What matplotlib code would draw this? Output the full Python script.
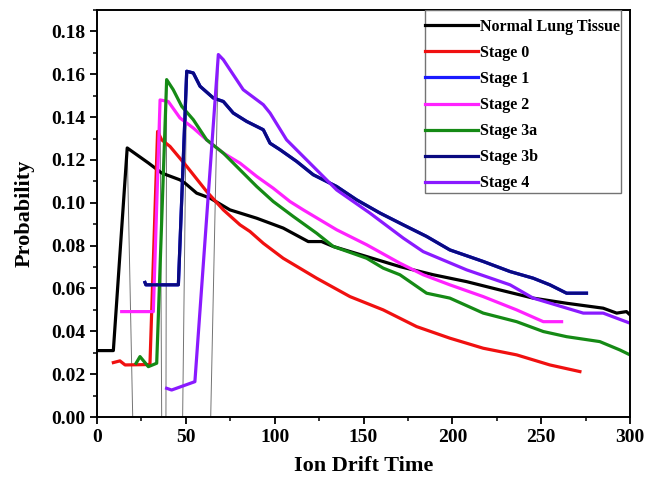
import matplotlib
matplotlib.use("Agg")
import matplotlib.pyplot as plt
from matplotlib.patches import Rectangle
from matplotlib.ticker import MultipleLocator

plt.rcParams['font.family'] = ['Liberation Serif', 'DejaVu Serif']
plt.rcParams['font.weight'] = 'bold'

# drift spectra, one per tissue group
normal_x = [0, 9.2, 17, 28.9, 36.4, 46.7, 49.5, 56.1, 63.6, 74.8, 89.9, 104.8, 118.9, 126.4,
            133, 151.8, 170.5, 189.3, 208, 226.8, 245.5, 264.3, 284.9, 292.5, 298, 300]
normal_y = [0.031, 0.031, 0.1256, 0.1186, 0.1139, 0.1107, 0.1092, 0.1045, 0.1022, 0.0967,
            0.0928, 0.0882, 0.0819, 0.0819, 0.0796, 0.0749, 0.0702, 0.0664, 0.0632, 0.0593,
            0.0555, 0.0531, 0.0508, 0.0485, 0.0492, 0.0477]

stage0_x = [9.2, 12.9, 15.8, 29.8, 34.1, 36.4, 41.1, 50.5, 61.7, 71.1, 80.5, 86.1, 93.6,
            104.8, 123.6, 142.4, 161.1, 179.9, 198.6, 217.4, 236.2, 254.9, 271.8]
stage0_y = [0.0254, 0.0262, 0.0243, 0.0245, 0.1333, 0.1294, 0.1263, 0.117, 0.1053, 0.0967,
            0.0897, 0.0866, 0.0811, 0.0741, 0.0648, 0.0562, 0.05, 0.0422, 0.0368, 0.0321,
            0.029, 0.0243, 0.0212]

stage2_x = [13.9, 31.7, 35.5, 40.1, 46.7, 54.2, 61.7, 71.1, 80.5, 89.9, 99.2, 108.6, 116.1,
            134.9, 151.8, 170.5, 183.6, 198.6, 217.4, 236.2, 251.2, 261.5]
stage2_y = [0.0492, 0.0492, 0.148, 0.1473, 0.1396, 0.1349, 0.1294, 0.1232, 0.1185, 0.1123,
            0.1068, 0.1006, 0.0967, 0.0874, 0.0804, 0.0718, 0.0664, 0.0617, 0.0562, 0.05,
            0.0445, 0.0445]

stage3a_x = [22, 24.2, 28.9, 33.6, 39.2, 42.9, 47.7, 54.2, 61.7, 71.1, 80.5, 89.9, 99.2,
             110.5, 123.6, 133, 151.8, 161.1, 170.5, 185.5, 198.6, 217.4, 236.2, 251.2,
             264.3, 283, 294.3, 300]
stage3a_y = [0.0251, 0.0282, 0.0235, 0.0251, 0.1575, 0.1528, 0.145, 0.1388, 0.1294, 0.1232,
             0.1154, 0.1076, 0.1006, 0.0936, 0.0858, 0.0796, 0.0741, 0.0695, 0.0664, 0.0578,
             0.0555, 0.0485, 0.0445, 0.0399, 0.0375, 0.0352, 0.0313, 0.029]

stage3b_x = [27, 27.5, 45.8, 50.5, 54.2, 58, 65.5, 71.1, 76.7, 84.2, 93.6, 97.4, 103, 112.4,
             121.7, 134.9, 146.1, 159.3, 172.4, 185.5, 198.6, 217.4, 232.5, 245.5, 254.9,
             264.3, 275.5]
stage3b_y = [0.0628, 0.0617, 0.0617, 0.1614, 0.1606, 0.1544, 0.1489, 0.1473, 0.1419, 0.138,
             0.1341, 0.1278, 0.1248, 0.1193, 0.1131, 0.1076, 0.1014, 0.0952, 0.0897, 0.0843,
             0.078, 0.0726, 0.0679, 0.0648, 0.0617, 0.0578, 0.0578]

# stage 1 sits under stage 3b
stage1_x = stage3b_x
stage1_y = stage3b_y

stage4_x = [39.2, 42, 55.1, 68.3, 71.1, 82.3, 93.6, 97.4, 106.7, 116.1, 134.9, 153.6, 172.4,
            183.6, 208, 232.5, 245.5, 273.7, 284.9, 300]
stage4_y = [0.0134, 0.0126, 0.0165, 0.1692, 0.1668, 0.1528, 0.1458, 0.1419, 0.1294, 0.1216,
            0.106, 0.0952, 0.0835, 0.0772, 0.0687, 0.0617, 0.0555, 0.0485, 0.0485, 0.0438]

# thin drop lines from the peaks to the axis
drop_top_x = [17, 35.5, 39.2, 50.5, 68.3]
drop_top_y = [0.1256, 0.148, 0.1575, 0.1614, 0.1692]
drop_bot_x = [20.1, 36.4, 38.8, 48.2, 64]

series = [
    ("Normal Lung Tissue", normal_x, normal_y, "black"),
    ("Stage 0", stage0_x, stage0_y, "#f01010"),
    ("Stage 1", stage1_x, stage1_y, "#1a1aff"),
    ("Stage 2", stage2_x, stage2_y, "#ff22ff"),
    ("Stage 3a", stage3a_x, stage3a_y, "#158a15"),
    ("Stage 3b", stage3b_x, stage3b_y, "#0a0a80"),
    ("Stage 4", stage4_x, stage4_y, "#8a1aff"),
]

fig = plt.figure(figsize=(6.46, 4.79), dpi=100)
ax = fig.add_axes([97 / 646, 62 / 479, 533 / 646, 407 / 479])

for tx, ty, bx in zip(drop_top_x, drop_top_y, drop_bot_x):
    ax.plot([tx, bx], [ty, 0], color="0.45", lw=0.7, zorder=1)

for name, xs, ys, c in series:
    ax.plot(xs, ys, color=c, lw=2.3, label=name, zorder=2)

ax.set_xlim(0, 300)
ax.set_ylim(0, 0.19)
ax.set_yticks([i * 0.02 for i in range(10)])
ax.yaxis.set_major_formatter(plt.FormatStrFormatter("%.2f"))
ax.xaxis.set_major_locator(MultipleLocator(50))
ax.xaxis.set_minor_locator(MultipleLocator(25))
ax.yaxis.set_minor_locator(MultipleLocator(0.01))
ax.tick_params(which="major", direction="out", length=5, width=1.3, labelsize=14)
ax.tick_params(which="minor", direction="out", length=3, width=1.1)
for sp in ax.spines.values():
    sp.set_linewidth(1.4)

ax.set_xlabel("Ion Drift Time", fontsize=16, fontweight="bold", labelpad=7)
ax.set_ylabel("Probability", fontsize=16, fontweight="bold", labelpad=12)

# legend box drawn separately so the handles touch its left edge
ax.add_patch(Rectangle((0.615, 0.55), 0.368, 0.45, transform=ax.transAxes,
                       fill=False, edgecolor="0.45", lw=1.0, zorder=5))
leg = ax.legend(loc="upper left", bbox_to_anchor=(0.615, 0.978), borderaxespad=0,
                fontsize=11.5, frameon=False, handlelength=3.3, handletextpad=0.15,
                labelspacing=0.63, borderpad=0)
for t in leg.get_texts():
    t.set_fontweight("bold")

fig.savefig("out.png", dpi=100)
